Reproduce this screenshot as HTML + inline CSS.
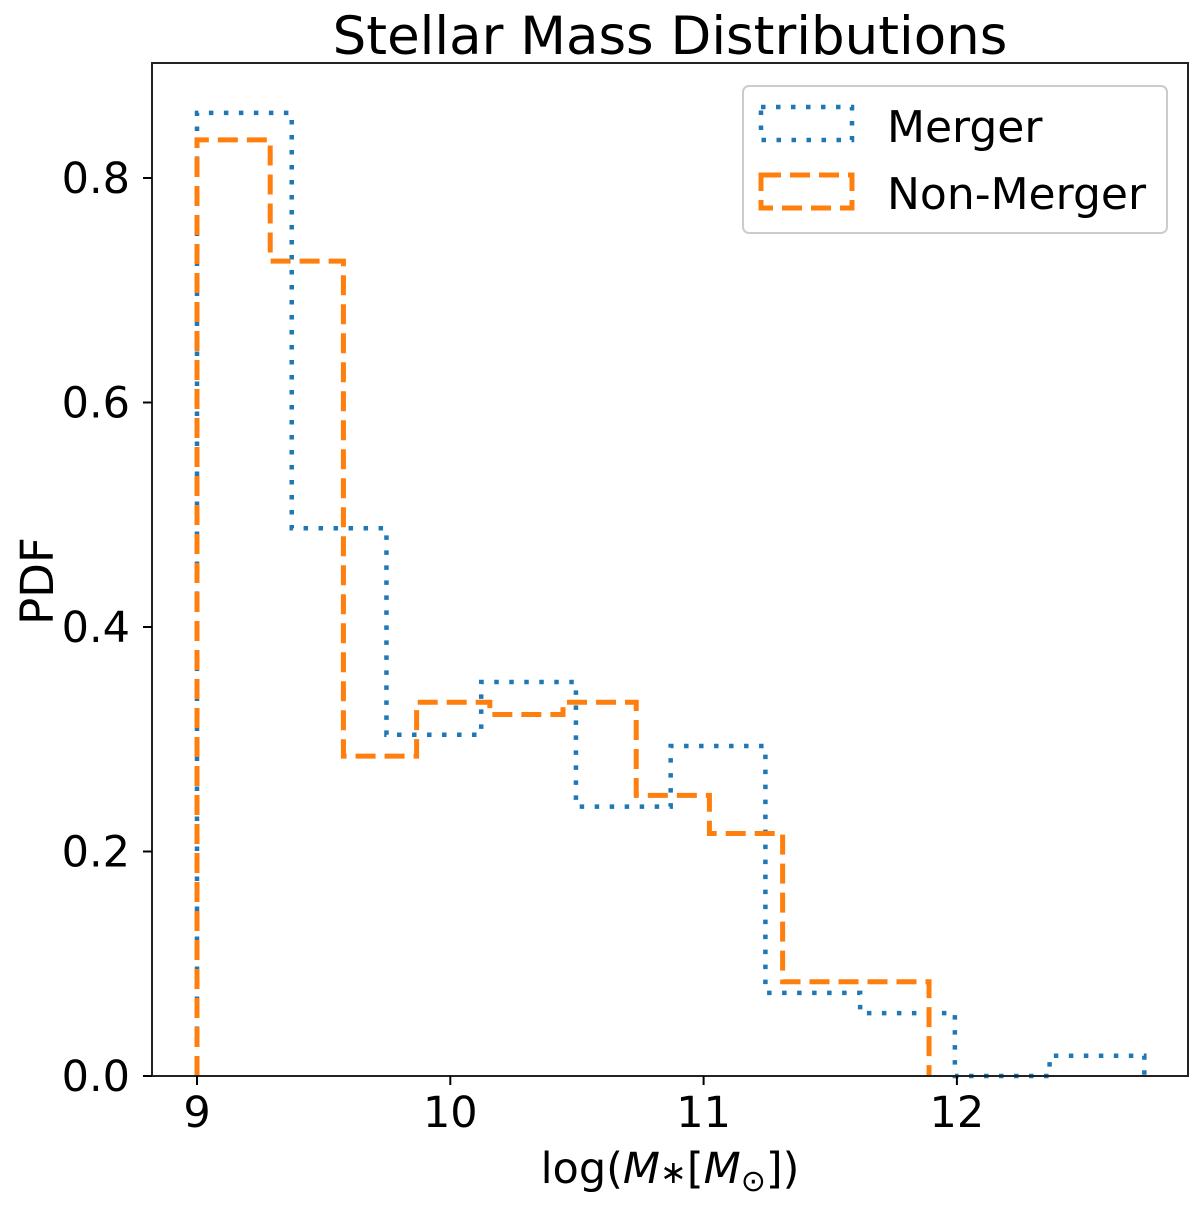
<!DOCTYPE html>
<html><head><meta charset="utf-8"><style>
body{margin:0;background:#fff}
svg text{font-family:"DejaVu Sans","Liberation Sans",sans-serif;fill:#000}
</style></head><body>
<svg id="c" width="1200" height="1206" viewBox="0 0 1200 1206">
<text x="670" y="54" font-size="53" text-anchor="middle">Stellar Mass Distributions</text>
<g id="plot"></g>
<rect x="152" y="63" width="1036" height="1013" fill="none" stroke="#222" stroke-width="2"/>
<text x="670" y="1183" font-size="43" text-anchor="middle">log(<tspan font-style="italic">M</tspan><tspan font-size="32">∗</tspan>[<tspan font-style="italic">M</tspan><tspan font-size="30" dy="8">⊙</tspan><tspan dy="-8">])</tspan></text>
<text transform="translate(53,581) rotate(-90)" font-size="45" text-anchor="middle">PDF</text>
<g>
<rect x="743" y="86" width="424" height="147" rx="6" fill="#fff" stroke="#ccc" stroke-width="2"/>
<rect x="761" y="107" width="91" height="33" fill="none" stroke="#1f77b4" stroke-width="4.5" stroke-dasharray="4.5 10.5"/>
<text x="887" y="142" font-size="44">Merger</text>
<rect x="761" y="175" width="91" height="33" fill="none" stroke="#ff7f0e" stroke-width="5" stroke-dasharray="20 9"/>
<text x="887" y="209" font-size="44">Non-Merger</text>
</g>
</svg>
<script>
const mergerStart = 9.0, mergerWidth = 0.374;
const mergerValues = [0.858,0.488,0.304,0.351,0.240,0.294,0.074,0.056,0.0,0.018];
const nonStart = 9.0, nonWidth = 0.289;
const nonValues = [0.834,0.726,0.285,0.333,0.322,0.333,0.250,0.216,0.084,0.084];
const xTicks = [9,10,11,12];
const yTicks = [0.0,0.2,0.4,0.6,0.8];
const yTickLabels = ["0.0","0.2","0.4","0.6","0.8"];

const X = v => 197 + (v - 9) * 253.3;
const Y = v => 1076 - v * 1122.5;
const svg = document.getElementById('c');
const plot = document.getElementById('plot');
const NS = 'http://www.w3.org/2000/svg';

function stepPath(start, w, vals){
  let d = 'M' + X(start) + ',' + Y(0);
  vals.forEach((v,i)=>{
    d += ' L' + X(start+i*w) + ',' + Y(v) + ' L' + X(start+(i+1)*w) + ',' + Y(v);
  });
  d += ' L' + X(start+vals.length*w) + ',' + Y(0);
  return d;
}
const p1 = document.createElementNS(NS,'path');
p1.setAttribute('d', stepPath(mergerStart, mergerWidth, mergerValues));
p1.setAttribute('fill','none');p1.setAttribute('stroke','#1f77b4');p1.setAttribute('stroke-width','4.5');p1.setAttribute('stroke-dasharray','4.5 10.5');


plot.appendChild(p1);
const p2 = document.createElementNS(NS,'path');
p2.setAttribute('d', stepPath(nonStart, nonWidth, nonValues));
p2.setAttribute('fill','none');p2.setAttribute('stroke','#ff7f0e');p2.setAttribute('stroke-width','5');p2.setAttribute('stroke-dasharray','20 9');


plot.appendChild(p2);

xTicks.forEach(t=>{
  const l = document.createElementNS(NS,'line');
  l.setAttribute('x1',X(t));l.setAttribute('x2',X(t));l.setAttribute('y1',1076);l.setAttribute('y2',1085);
  l.setAttribute('stroke','#000');l.setAttribute('stroke-width','2');
  
  
  svg.appendChild(l);
  const tx = document.createElementNS(NS,'text');
  tx.setAttribute('x',X(t));tx.setAttribute('y',1127);tx.setAttribute('font-size','43');tx.setAttribute('text-anchor','middle');
  tx.textContent = t;
  
  
  svg.appendChild(tx);
});
yTicks.forEach((t,i)=>{
  const l = document.createElementNS(NS,'line');
  l.setAttribute('x1',143);l.setAttribute('x2',152);l.setAttribute('y1',Y(t));l.setAttribute('y2',Y(t));
  l.setAttribute('stroke','#000');l.setAttribute('stroke-width','2');
  
  
  svg.appendChild(l);
  const tx = document.createElementNS(NS,'text');
  tx.setAttribute('x',130);tx.setAttribute('y',Y(t)+15);tx.setAttribute('font-size','43');tx.setAttribute('text-anchor','end');
  tx.textContent = yTickLabels[i];
  
  
  svg.appendChild(tx);
});
</script>
</body></html>
